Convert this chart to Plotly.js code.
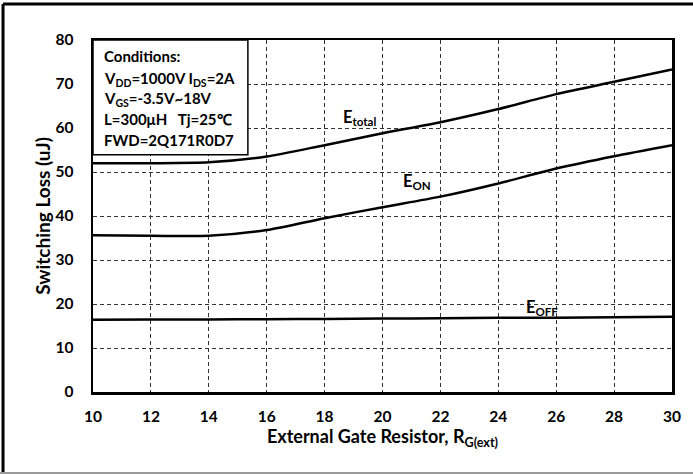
<!DOCTYPE html>
<html><head><meta charset="utf-8">
<script src="https://cdn.plot.ly/plotly-3.0.1.min.js"></script>
<style>html,body{margin:0;padding:0;background:#fff}#chart{width:693px;height:474px}</style>
</head><body><div id="chart"></div>
<script>
const rg = [10,12,14,16,18,20,22,24,26,28,30];
const eTotal = [52.0,52.0,52.2,53.5,56.1,58.8,61.3,64.3,67.7,70.5,73.3];
const eOn = [35.6,35.5,35.5,36.8,39.5,42.0,44.4,47.4,50.8,53.6,56.1];
const eOff = [16.4,16.45,16.5,16.55,16.6,16.7,16.75,16.85,16.9,17.0,17.1];
const xTicks = [10,12,14,16,18,20,22,24,26,28,30];
const yTicks = [0,10,20,30,40,50,60,70,80];
const condLines = ["Conditions:","V<sub>DD</sub>=1000V I<sub>DS</sub>=2A","V<sub>GS</sub>=-3.5V~18V","L=300μH   Tj=25℃","FWD=2Q171R0D7"];
const curveLabels = ["E<sub>total</sub>","E<sub>ON</sub>","E<sub>OFF</sub>"];

const F = "Lato, 'Open Sans', sans-serif";
const lineStyle = {color:'#000', width:2.5, shape:'spline', smoothing:0.7};
const traces = [eTotal,eOn,eOff].map(v=>({x:rg,y:v,mode:'lines',line:lineStyle,hoverinfo:'skip'}));

const condY = [76.4,71.1,66.6,62.0,57.3];
const annotations = condLines.map((t,i)=>({x:10.3,y:condY[i],xref:'x',yref:'y',text:t,showarrow:false,xanchor:'left',yanchor:'middle',font:{family:F,size:15,color:'#000',weight:'bold'}}));
const labPos = [[19.2,62.5],[21.2,47.9],[25.5,19.2]];
curveLabels.forEach((t,i)=>annotations.push({x:labPos[i][0],y:labPos[i][1],xref:'x',yref:'y',text:t,showarrow:false,font:{family:F,size:16.5,color:'#000',weight:'bold'}}));

const layout = {
  width:693,height:474,
  margin:{l:93,r:21,t:40,b:82},
  paper_bgcolor:'#fff',plot_bgcolor:'#fff',
  showlegend:false,
  font:{family:F,color:'#000'},
  xaxis:{range:[10,30],tickvals:xTicks,ticktext:xTicks.map(String),showline:true,mirror:true,linecolor:'#000',linewidth:2.5,
    showgrid:true,gridcolor:'#333',gridwidth:1,griddash:'4px,3px',zeroline:false,ticks:'',ticklabelstandoff:9,
    tickfont:{family:F,size:15.5,weight:'bold'},
    title:{text:'External Gate Resistor, R<sub>G(ext)</sub>',font:{family:F,size:18,weight:'bold'},standoff:7}},
  yaxis:{range:[0,80],tickvals:yTicks,ticktext:yTicks.map(String),showline:true,mirror:true,linecolor:'#000',linewidth:2.5,
    showgrid:true,gridcolor:'#333',gridwidth:1,griddash:'4px,3px',zeroline:false,ticks:'',ticklabelstandoff:14,
    tickfont:{family:F,size:15.5,weight:'bold'},
    title:{text:'Switching Loss (uJ)',font:{family:F,size:19,weight:'bold'},standoff:0}},
  shapes:[
    {type:'rect',xref:'x',yref:'y',x0:10,x1:15.35,y0:53.9,y1:80,fillcolor:'#fff',line:{color:'#000',width:1.5},layer:'above'},
    {type:'line',xref:'paper',yref:'paper',x0:-0.1554,x1:-0.1554,y0:1.1023,y1:-0.25,line:{color:'#000',width:3}},
    {type:'line',xref:'paper',yref:'paper',x0:-0.1554,x1:1.05,y0:1.1023,y1:1.1023,line:{color:'#000',width:3}},
    {type:'line',xref:'paper',yref:'paper',x0:-0.17,x1:1.05,y0:-0.2301,y1:-0.2301,line:{color:'#999',width:2}}
  ],
  annotations:annotations
};
Plotly.newPlot('chart',traces,layout,{staticPlot:true,displayModeBar:false});
</script></body></html>
